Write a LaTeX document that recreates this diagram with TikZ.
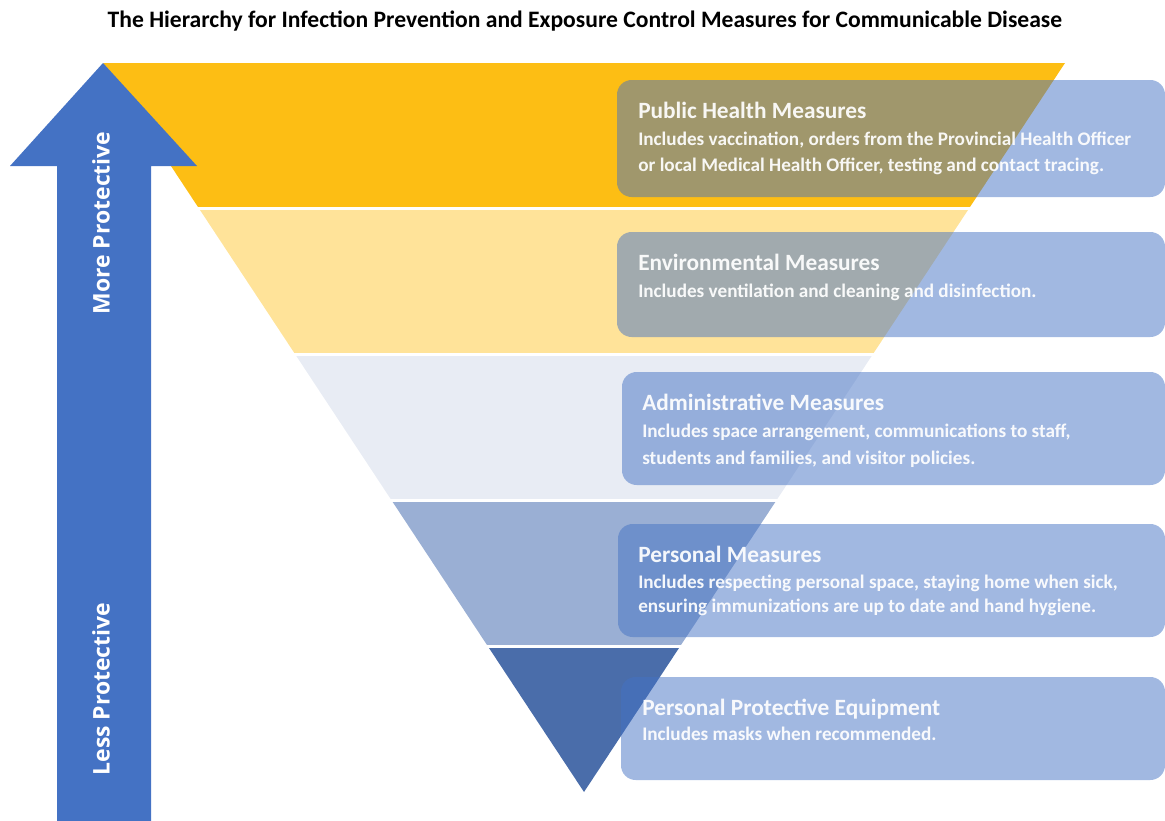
\documentclass[tikz,border=0pt]{standalone}
\usepackage{fontspec}
\setmainfont{Carlito}
\newfontfamily\arrowfont{Open Sans}
\usetikzlibrary{fit}

\definecolor{bandA}{HTML}{FDBE14}
\definecolor{bandB}{HTML}{FFE399}
\definecolor{bandC}{HTML}{E8ECF4}
\definecolor{bandD}{HTML}{9AAFD4}
\definecolor{bandE}{HTML}{4A6DAA}
\definecolor{arrowblue}{HTML}{4472C4}

\begin{document}
\begin{tikzpicture}[x=0.75pt, y=-0.75pt,
    measure/.style={fill=arrowblue, fill opacity=0.5, rounded corners=11pt, inner sep=0pt},
    heading/.style={anchor=base west, inner sep=0pt, text=white, text opacity=0.93,
        font=\bfseries\fontsize{17.5}{21}\selectfont},
    detail/.style={anchor=base west, inner sep=0pt, text=white, text opacity=0.93,
        font=\bfseries\fontsize{14.4}{19}\selectfont},
    sidelabel/.style={rotate=90, text=white, font=\arrowfont\bfseries\fontsize{17.2}{20}\selectfont}]
    \useasboundingbox (0,0) rectangle (1165,821);

    \node[anchor=base, font=\bfseries\fontsize{17.7}{22}\selectfont] (title) at (585,27)
        {The Hierarchy for Infection Prevention and Exposure Control Measures for Communicable Disease};

    % Funnel bands
    \foreach \col [count=\k from 0] in {bandA,bandB,bandC,bandD,bandE} {
        \pgfmathsetmacro\ytop{63+145.8*\k}
        \pgfmathsetmacro\ybot{\ytop+145.8}
        \pgfmathsetmacro\wtop{0.6598*(792-\ytop)}
        \pgfmathsetmacro\wbot{0.6598*(792-\ybot)}
        \fill[\col] (584-\wtop,\ytop) -- (584+\wtop,\ytop) -- (584+\wbot,\ybot) -- (584-\wbot,\ybot) -- cycle;
    }
    \foreach \k in {1,...,4} {
        \pgfmathsetmacro\ycut{63+145.8*\k}
        \pgfmathsetmacro\wcut{0.6598*(792-\ycut)+2}
        \draw[white, line width=2.4pt] (584-\wcut,\ycut) -- (584+\wcut,\ycut);
    }

    % Protection arrow
    \fill[arrowblue] (103,63) -- (197,166) -- (151,166) -- (151,821) -- (57,821) -- (57,166) -- (10,166) -- cycle;
    \node[sidelabel] (more) at (101,223) {More Protective};
    \node[sidelabel] (less) at (101,689) {Less Protective};

    % Measure boxes
    \node[measure, fit={(617,80) (1165,197)}] (publicbox) {};
    \node[measure, fit={(617,232) (1165,337)}] (envbox) {};
    \node[measure, fit={(622,372) (1165,485)}] (adminbox) {};
    \node[measure, fit={(618,524) (1165,637)}] (personalbox) {};
    \node[measure, fit={(621,677) (1165,780)}] (ppebox) {};

    \node[heading] (publicT) at (638,118) {Public Health Measures};
    \node[detail] (publicA) at (638,145) {Includes vaccination, orders from the Provincial Health Officer};
    \node[detail] (publicB) at (638,171) {or local Medical Health Officer, testing and contact tracing.};

    \node[heading] (envT) at (638,270) {Environmental Measures};
    \node[detail] (envA) at (638,297) {Includes ventilation and cleaning and disinfection.};

    \node[heading] (adminT) at (642,410) {Administrative Measures};
    \node[detail] (adminA) at (642,437) {Includes space arrangement, communications to staff,};
    \node[detail] (adminB) at (642,464) {students and families, and visitor policies.};

    \node[heading] (personalT) at (638,562) {Personal Measures};
    \node[detail] (personalA) at (638,588) {Includes respecting personal space, staying home when sick,};
    \node[detail] (personalB) at (638,612) {ensuring immunizations are up to date and hand hygiene.};

    \node[heading] (ppeT) at (642,715) {Personal Protective Equipment};
    \node[detail] (ppeA) at (642,740) {Includes masks when recommended.};
\end{tikzpicture}
\end{document}
